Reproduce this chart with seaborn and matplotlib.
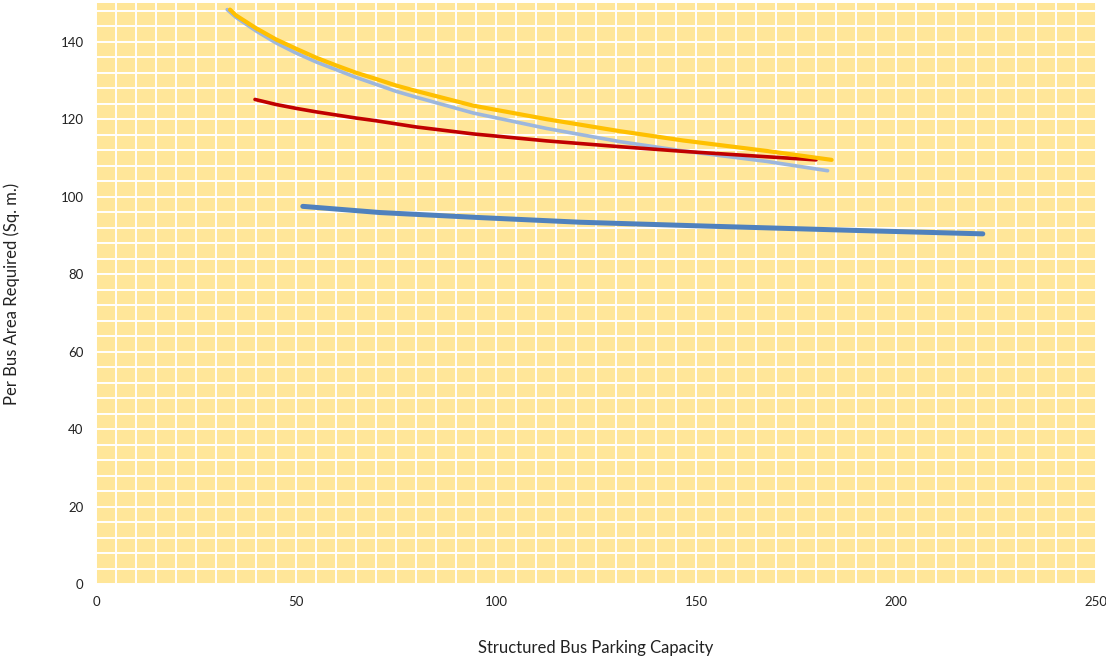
import numpy as np
import pandas as pd
import matplotlib
matplotlib.use('Agg')
import matplotlib.pyplot as plt
import seaborn as sns
from matplotlib.ticker import MultipleLocator

# Valori (capacitate, suprafata pe autobuz)
yellow_x = [33.5, 35, 40, 45, 50, 55, 60, 65, 70, 75, 80, 94.3, 112.7, 131.0, 146.8, 167.7, 183.9]
yellow_y = [148.3, 146.8, 143.5, 140.6, 138.2, 135.9, 133.9, 132.0, 130.4, 128.7, 127.3,
            123.5, 120.0, 116.9, 114.5, 111.8, 109.5]

lightblue_x = [32.8, 35, 40, 45, 50, 55, 60, 65, 70, 75, 80, 94.3, 112.7, 131.0, 146.8, 167.7, 182.9]
lightblue_y = [148.3, 146.3, 142.8, 139.7, 137.1, 134.8, 132.8, 130.8, 129.0, 127.2, 125.7,
               121.6, 117.6, 114.2, 111.8, 109.1, 106.7]

red_x = [39.75, 45, 50, 55, 60, 65, 70, 75, 80, 94.3, 112.7, 131.0, 146.8, 167.7, 180.0]
red_y = [125.1, 123.8, 122.8, 121.9, 121.1, 120.3, 119.6, 118.8, 118.0, 116.2, 114.4,
         112.9, 111.7, 110.3, 109.5]

blue_x = [51.7, 71.0, 96.0, 121.0, 152.7, 189.3, 221.7]
blue_y = [97.5, 95.9, 94.6, 93.4, 92.4, 91.3, 90.4]

series = [
    (blue_x, blue_y, '#4F81BD', 3.6),
    (lightblue_x, lightblue_y, '#9DB7DD', 2.6),
    (red_x, red_y, '#C00000', 2.6),
    (yellow_x, yellow_y, '#FFC000', 3.0),
]

sns.set_style('white', {'axes.facecolor': '#FFE699'})
plt.rcParams['font.family'] = ['Lato', 'DejaVu Sans']

fig = plt.figure(figsize=(11.06, 6.58), dpi=100)
ax = fig.add_axes([96 / 1106, 1 - 584 / 658, 1000 / 1106, 581 / 658])

for xs, ys, color, lw in series:
    df = pd.DataFrame({'x': xs, 'y': ys})
    sns.lineplot(data=df, x='x', y='y', sort=False, color=color, linewidth=lw,
                 solid_capstyle='round', solid_joinstyle='round', ax=ax)

ax.set_xlim(0, 250)
ax.set_ylim(0, 150)
ax.xaxis.set_major_locator(MultipleLocator(50))
ax.xaxis.set_minor_locator(MultipleLocator(5))
ax.yaxis.set_major_locator(MultipleLocator(20))
ax.yaxis.set_minor_locator(MultipleLocator(4))
ax.grid(True, which='both', color='white', linewidth=1.4)
ax.set_axisbelow(True)
for s in ax.spines.values():
    s.set_visible(False)
ax.tick_params(which='both', length=0, labelsize=9.5, colors='#222222')
ax.tick_params(axis='x', pad=9)
ax.tick_params(axis='y', pad=9)

ax.set_xlabel('Structured Bus Parking Capacity', fontsize=12, labelpad=23, color='#222222')
ax.set_ylabel('Per Bus Area Required (Sq. m.)', fontsize=12, labelpad=29, color='#222222')

plt.savefig('out.png', dpi=100)
plt.close()
